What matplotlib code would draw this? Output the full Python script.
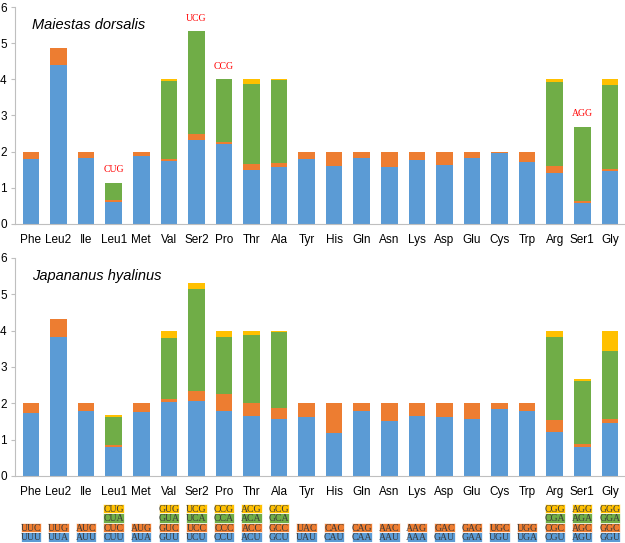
import matplotlib.pyplot as plt
from matplotlib.patches import Rectangle
import numpy as np

amino = ['Phe', 'Leu2', 'Ile', 'Leu1', 'Met', 'Val', 'Ser2', 'Pro', 'Thr', 'Ala', 'Tyr',
         'His', 'Gln', 'Asn', 'Lys', 'Asp', 'Glu', 'Cys', 'Trp', 'Arg', 'Ser1', 'Gly']

codons = [['UUU', 'UUC'], ['UUA', 'UUG'], ['AUU', 'AUC'], ['CUU', 'CUC', 'CUA', 'CUG'],
          ['AUA', 'AUG'], ['GUU', 'GUC', 'GUA', 'GUG'], ['UCU', 'UCC', 'UCA', 'UCG'],
          ['CCU', 'CCC', 'CCA', 'CCG'], ['ACU', 'ACC', 'ACA', 'ACG'], ['GCU', 'GCC', 'GCA', 'GCG'],
          ['UAU', 'UAC'], ['CAU', 'CAC'], ['CAA', 'CAG'], ['AAU', 'AAC'], ['AAA', 'AAG'],
          ['GAU', 'GAC'], ['GAA', 'GAG'], ['UGU', 'UGC'], ['UGA', 'UGG'],
          ['CGU', 'CGC', 'CGA', 'CGG'], ['AGU', 'AGC', 'AGA', 'AGG'], ['GGU', 'GGC', 'GGA', 'GGG']]

# RSCU, Maiestas dorsalis (codon position 1..4 within each amino acid)
md_1 = [1.80, 4.40, 1.83, 0.62, 1.89, 1.75, 2.33, 2.20, 1.50, 1.57, 1.79,
        1.60, 1.83, 1.57, 1.77, 1.64, 1.83, 1.97, 1.72, 1.42, 0.57, 1.47]
md_2 = [0.20, 0.47, 0.17, 0.03, 0.11, 0.05, 0.15, 0.06, 0.16, 0.13, 0.21,
        0.40, 0.17, 0.43, 0.23, 0.36, 0.16, 0.03, 0.28, 0.18, 0.06, 0.04]
md_3 = [0, 0, 0, 0.49, 0, 2.15, 2.85, 1.74, 2.22, 2.27, 0,
        0, 0, 0, 0, 0, 0, 0, 0, 2.34, 2.06, 2.32]
md_4 = [0, 0, 0, 0, 0, 0.05, 0, 0, 0.12, 0.03, 0,
        0, 0, 0, 0, 0, 0, 0, 0, 0.06, 0, 0.17]
md_missing = [('Leu1', 'CUG'), ('Ser2', 'UCG'), ('Pro', 'CCG'), ('Ser1', 'AGG')]

# RSCU, Japananus hyalinus
jh_1 = [1.72, 3.83, 1.78, 0.81, 1.75, 2.05, 2.06, 1.79, 1.65, 1.56, 1.61,
        1.19, 1.79, 1.50, 1.65, 1.62, 1.57, 1.83, 1.79, 1.22, 0.81, 1.46]
jh_2 = [0.28, 0.50, 0.22, 0.03, 0.25, 0.06, 0.28, 0.47, 0.37, 0.32, 0.39,
        0.81, 0.21, 0.50, 0.35, 0.38, 0.43, 0.17, 0.21, 0.32, 0.08, 0.10]
jh_3 = [0, 0, 0, 0.77, 0, 1.70, 2.81, 1.57, 1.86, 2.08, 0,
        0, 0, 0, 0, 0, 0, 0, 0, 2.29, 1.73, 1.89]
jh_4 = [0, 0, 0, 0.06, 0, 0.19, 0.16, 0.16, 0.12, 0.03, 0,
        0, 0, 0, 0, 0, 0, 0, 0, 0.17, 0.05, 0.55]

colors = ['#5B9BD5', '#ED7D31', '#70AD47', '#FFC000']
x = np.arange(len(amino))
xlim = (-0.58, 21.55)
plt.rcParams['font.family'] = 'Liberation Sans'

fig = plt.figure(figsize=(6.25, 5.43), dpi=100)


def rscu_panel(ax, series, title, missing=()):
    bottom = np.zeros(len(amino))
    for vals, c in zip(series, colors):
        vals = np.array(vals)
        ax.bar(x, vals, 0.6, bottom=bottom, color=c, linewidth=0)
        bottom += vals
    for aa, cod in missing:
        i = amino.index(aa)
        ax.text(i, bottom[i] + 0.36, cod, color='red', ha='center', va='center',
                fontsize=7, family='Liberation Serif')
    ax.set_xlim(*xlim)
    ax.set_ylim(0, 6)
    ax.set_yticks(range(7))
    ax.set_xticks(x)
    ax.set_xticklabels(amino, fontsize=8.5)
    ax.tick_params(axis='x', length=0, pad=7)
    ax.tick_params(axis='y', labelsize=8.5, length=3, color='#bfbfbf', pad=3)
    for s in ['top', 'right']:
        ax.spines[s].set_visible(False)
    ax.spines['left'].set_color('#bfbfbf')
    ax.spines['bottom'].set_color('#bfbfbf')
    ax.text(0.028, 0.9, title, transform=ax.transAxes, fontsize=10.5, style='italic')


ax1 = fig.add_axes([0.024, 0.5875, 0.976, 0.3996])
rscu_panel(ax1, [md_1, md_2, md_3, md_4], 'Maiestas dorsalis', md_missing)

ax2 = fig.add_axes([0.024, 0.1234, 0.976, 0.4015])
rscu_panel(ax2, [jh_1, jh_2, jh_3, jh_4], 'Japananus hyalinus')

# codon key below the charts
ax3 = fig.add_axes([0.024, 0.002, 0.976, 0.07])
ax3.set_xlim(*xlim)
ax3.set_ylim(0, 4)
ax3.axis('off')
for i, cods in enumerate(codons):
    for j, cod in enumerate(cods):
        ax3.add_patch(Rectangle((i - 0.37, j), 0.74, 1, facecolor=colors[j],
                                edgecolor='white', linewidth=0.5))
        ax3.text(i, j + 0.45, cod, ha='center', va='center', fontsize=7,
                 family='Liberation Serif', color='#3a3a3a')

fig.savefig('out.png', dpi=100)
